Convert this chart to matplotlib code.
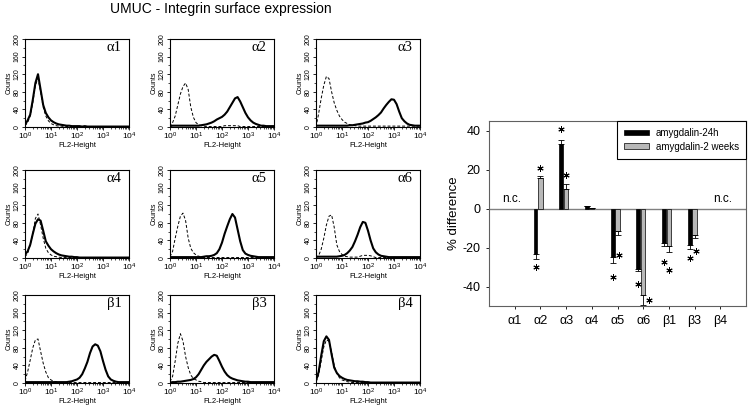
import numpy as np
import matplotlib
matplotlib.use('Agg')
import matplotlib.pyplot as plt
from matplotlib.ticker import MultipleLocator, LogLocator, NullFormatter
from matplotlib.patches import Patch

plt.rcParams['font.family'] = ['Liberation Sans', 'DejaVu Sans']
plt.rcParams['axes.unicode_minus'] = False

# ---------------- histogram data (counts on a log10 FL2-Height grid) -------------
log_fl2 = np.round(np.arange(0, 41) * 0.1, 1)   # 10^0 ... 10^4

a1_solid = [5,15,28,62,100,120,85,50,32,22, 15,11,8,6,5,4,3,3,2,2, 2,2,1,2,1,1,1,1,1,1, 1,1,1,1,1,1,1,1,1,1, 1]
a1_dash  = [3,10,25,55,95,110,80,45,25,14, 8,5,3,2,2,1,1,1,1,1, 1,1,1,1,1,1,0,0,0,0, 0,0,0,0,0,0,0,0,0,0, 0]
a2_solid = [2,3,3,3,3,3,3,3,3,3, 3,3,4,5,6,8,10,13,17,20, 23,28,35,45,55,65,68,58,45,32, 22,15,10,7,5,3,3,2,2,2, 2]
a2_dash  = [0,10,25,50,75,92,100,85,45,22, 10,5,3,2,1,1,1,1,1,1, 1,3,3,3,3,3,3,1,1,1, 1,1,1,1,1,1,1,1,1,1, 1]
a3_solid = [3,3,3,3,3,3,3,3,3,3, 3,3,3,4,4,5,6,7,8,10, 11,14,18,22,27,33,42,50,57,63, 62,52,35,20,13,8,5,4,3,3, 3]
a3_dash  = [0,30,65,95,115,110,80,55,38,25, 17,11,8,5,4,3,2,2,2,2, 2,2,2,2,2,2,2,2,2,2, 2,2,2,2,2,2,2,2,2,2, 2]
a4_solid = [8,15,30,55,78,88,85,62,38,28, 20,15,11,8,6,5,4,3,3,2, 2,1,1,1,1,1,1,1,1,1, 1,1,1,1,1,1,1,1,1,1, 1]
a4_dash  = [3,10,30,55,90,100,75,45,22,12, 7,4,3,2,1,1,1,1,1,1, 1,1,1,1,1,1,1,1,1,1, 1,1,1,1,1,1,1,1,1,1, 1]
a5_solid = [2,2,2,2,2,2,2,2,2,2, 2,2,2,3,4,4,5,7,11,20, 35,55,72,88,100,92,65,38,18,10, 7,5,4,3,2,2,2,2,2,2, 2]
a5_dash  = [3,15,45,72,95,102,85,45,22,12, 7,4,3,1,1,1,1,1,1,1, 1,1,1,1,1,1,1,1,1,1, 1,1,1,1,1,1,1,1,1,1, 1]
a6_solid = [3,3,3,3,3,3,3,3,3,4, 5,7,11,17,25,38,53,70,82,80, 62,40,22,13,8,5,4,3,2,2, 2,2,2,2,2,2,2,2,2,2, 2]
a6_dash  = [0,5,20,45,75,95,98,70,30,15, 8,4,3,2,2,2,2,4,6,6, 6,5,3,1,1,1,1,1,1,1, 1,1,1,1,1,1,1,1,1,1, 1]
b1_solid = [2,2,2,2,2,2,2,2,2,2, 2,2,2,2,2,2,2,3,4,6, 8,12,20,33,48,68,83,88,85,72, 50,30,15,8,5,3,2,2,2,2, 2]
b1_dash  = [5,25,52,80,98,100,72,45,25,12, 7,4,3,1,1,1,1,1,1,1, 1,1,1,1,1,1,1,1,1,1, 1,1,1,1,1,1,1,1,1,1, 1]
b3_solid = [1,2,2,3,3,4,5,6,7,9, 13,20,30,40,48,54,60,64,62,50, 37,26,18,13,10,8,6,5,4,3, 3,2,2,2,2,2,2,2,2,2, 2]
b3_dash  = [3,15,50,90,112,95,60,35,18,10, 7,4,3,1,1,1,1,1,1,1, 1,1,1,1,1,1,1,1,1,1, 1,1,1,1,1,1,1,1,1,1, 1]
b4_solid = [5,25,62,95,106,98,65,35,23,16, 12,9,7,6,5,4,4,3,3,2, 2,1,1,1,1,1,1,1,1,1, 1,1,1,1,1,1,1,1,1,1, 1]
b4_dash  = [3,18,50,82,98,95,70,40,22,12, 7,5,3,2,1,1,1,1,1,1, 1,1,1,1,1,1,1,1,1,1, 1,1,1,1,1,1,1,1,1,1, 1]

panel_labels = ['α1', 'α2', 'α3', 'α4', 'α5', 'α6', 'β1', 'β3', 'β4']
panel_solid = [a1_solid, a2_solid, a3_solid, a4_solid, a5_solid, a6_solid, b1_solid, b3_solid, b4_solid]
panel_dash = [a1_dash, a2_dash, a3_dash, a4_dash, a5_dash, a6_dash, b1_dash, b3_dash, b4_dash]

# ---------------- bar chart data ----------------
categories = ['α1', 'α2', 'α3', 'α4', 'α5', 'α6', 'β1', 'β3', 'β4']
h24_values = [np.nan, -23.5, 33.3, 1.5, -24.8, -30.9, -17.6, -18.5, np.nan]
h24_err    = [0, 2.2, 2.2, 0, 3.1, 1.1, 1.4, 2.3, 0]
w2_values  = [np.nan, 15.7, 10.1, 0.5, -11.6, -44.6, -19.3, -13.3, np.nan]
w2_err     = [0, 1.3, 2.5, 0, 1.7, 4.9, 2.9, 1.6, 0]
h24_star_y = [np.nan, -30, 41, np.nan, -35, -38.5, -27.3, -25.5, np.nan]
w2_star_y  = [np.nan, 21, 17.4, np.nan, -24, -47, -31.3, -21.5, np.nan]
w2_star_dx = [0, 0, 0, 0, 0.04, 0.22, 0, 0.05, 0]
nc_categories = ['α1', 'β4']
nc_label = 'n.c.'

fig = plt.figure(figsize=(7.5, 4.09), dpi=100)
W, H = 750.0, 409.0

col_left = [25, 170, 316]
row_bottom = [127, 258, 383]
pw, ph = 104, 88

x_vals = 10 ** log_fl2
for k in range(9):
    r, c = divmod(k, 3)
    ax = fig.add_axes([col_left[c] / W, 1 - row_bottom[r] / H, pw / W, ph / H])
    ax.plot(x_vals, panel_dash[k], color='black', lw=0.7, dashes=(3, 2))
    ax.plot(x_vals, panel_solid[k], color='black', lw=1.5)
    ax.set_xscale('log')
    ax.set_xlim(1, 1e4)
    ax.set_ylim(0, 200)
    ax.set_yticks([0, 40, 80, 120, 160, 200], ['0', '40', '80', '120', '160', '200'],
                  rotation=90, va='center')
    ax.yaxis.set_minor_locator(MultipleLocator(20))
    ax.xaxis.set_major_locator(LogLocator(base=10, numticks=10))
    ax.xaxis.set_minor_locator(LogLocator(base=10, subs=np.arange(2, 10), numticks=10))
    ax.xaxis.set_minor_formatter(NullFormatter())
    ax.tick_params(axis='both', which='major', length=2, width=0.6, pad=1, direction='out')
    ax.tick_params(axis='y', labelsize=5)
    ax.tick_params(axis='x', labelsize=6, pad=0.5)
    ax.tick_params(axis='both', which='minor', length=1.2, width=0.5, direction='out')
    for s in ax.spines.values():
        s.set_linewidth(0.8)
    ax.set_ylabel('Counts', fontsize=5, labelpad=1)
    ax.set_xlabel('FL2-Height', fontsize=5.5, labelpad=0)
    ax.text(0.93, 0.9, panel_labels[k], transform=ax.transAxes, ha='right', va='center',
            fontsize=10.5, family=['Liberation Serif', 'DejaVu Serif'])

fig.text(0.2947, 0.978, 'UMUC - Integrin surface expression', ha='center', va='center',
         fontsize=10)

# ---------------- bar chart ----------------
bx = fig.add_axes([489 / W, 1 - 306 / H, 257 / W, 185 / H])
pos = np.arange(1, len(categories) + 1)
h24 = np.array(h24_values)
w2 = np.array(w2_values)
off_b, off_g, bw = -0.19, 0.0, 0.15

bx.axhline(0, color='#808080', lw=1.0, zorder=1)
bx.bar(pos + off_b, h24, width=bw, color='black', edgecolor='black', lw=0.5, zorder=2)
bx.bar(pos + off_g, w2, width=bw + 0.02, color='#b8b8b8', edgecolor='black', lw=0.5, zorder=2)

for vals, errs, off in [(h24, h24_err, off_b), (w2, w2_err, off_g)]:
    m = np.isfinite(vals)
    e = np.array(errs)[m]
    v = vals[m]
    lo = np.where(v < 0, e, 0)
    hi = np.where(v >= 0, e, 0)
    bx.errorbar(pos[m] + off, v, yerr=[lo, hi], fmt='none', ecolor='black',
                elinewidth=0.6, capsize=2, capthick=0.6, zorder=3)

star_kw = dict(marker=(6, 2, 0), color='black', ms=4.5, mew=0.7, ls='none', zorder=4)
bx.plot(pos + off_b, h24_star_y, **star_kw)
bx.plot(pos + off_g + np.array(w2_star_dx), w2_star_y, **star_kw)

nc_off = {'α1': -0.1, 'β4': 0.1}
for cat in nc_categories:
    i = categories.index(cat)
    bx.text(pos[i] + nc_off[cat], 5, nc_label, ha='center', va='center', fontsize=8.5)

bx.set_xlim(0, 10)
bx.set_ylim(-50, 45)
bx.set_xticks(pos, categories)
bx.set_yticks([-40, -20, 0, 20, 40])
bx.tick_params(axis='both', labelsize=9, length=2.5, width=0.6, direction='out')
bx.tick_params(axis='x', pad=4)
for s in bx.spines.values():
    s.set_linewidth(0.8)
    s.set_color('#606060')
bx.set_ylabel('% difference', fontsize=9.5, labelpad=2)

handles = [Patch(facecolor='black', edgecolor='black', lw=0.5),
           Patch(facecolor='#b8b8b8', edgecolor='black', lw=0.5)]
leg = bx.legend(handles, ['amygdalin-24h', 'amygdalin-2 weeks'], loc='upper right',
                bbox_to_anchor=(1.0, 1.0), borderaxespad=0, fontsize=7, fancybox=False,
                framealpha=1, edgecolor='black', handlelength=2.6, handleheight=0.5,
                handletextpad=0.7, labelspacing=0.4, borderpad=0.7)
leg.get_frame().set_linewidth(0.8)

fig.savefig('out.png', dpi=100)
